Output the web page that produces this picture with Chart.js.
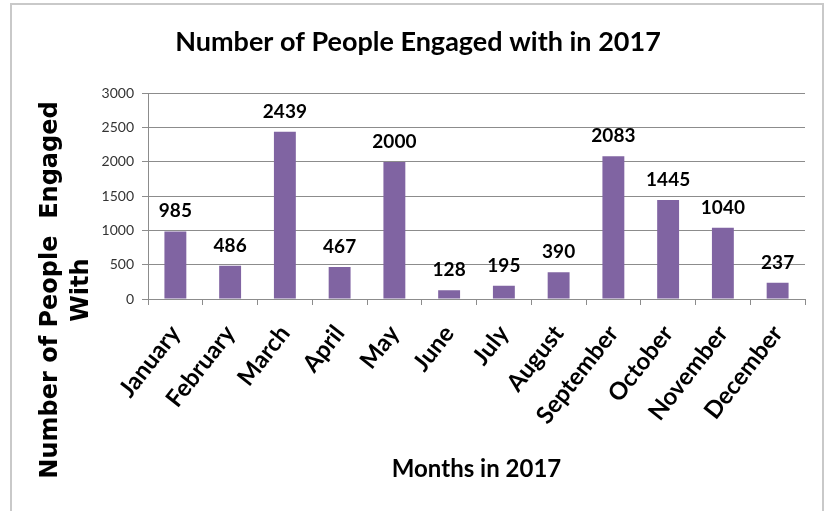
<!DOCTYPE html>
<html><head><meta charset="utf-8">
<script src="https://cdn.jsdelivr.net/npm/chart.js@4/dist/chart.umd.min.js"></script>
<style>
html,body{margin:0;padding:0;background:#fff;overflow:hidden;}
#wrap{position:relative;width:827px;height:511px;}
#frame{position:absolute;left:10px;top:3px;width:814px;height:540px;border:2px solid #c9c9c9;box-sizing:border-box;pointer-events:none;}
canvas{display:block;}
</style></head><body>
<div id="wrap"><canvas id="c" width="827" height="511"></canvas><div id="frame"></div></div>
<script>
const months = ['January','February','March','April','May','June','July','August','September','October','November','December'];
const engaged = [985, 486, 2439, 467, 2000, 128, 195, 390, 2083, 1445, 1040, 237];
const yMin = 0, yMax = 3000, yStep = 500;
const chartTitle = 'Number of People Engaged with in 2017';
const xTitle = 'Months in 2017';
const yTitleLines = ['Number of People  Engaged', 'With'];

const valueLabels = {
  id: 'valueLabels',
  afterDatasetsDraw(chart) {
    const ctx = chart.ctx;
    const meta = chart.getDatasetMeta(0);
    const data = chart.data.datasets[0].data;
    ctx.save();
    ctx.font = 'bold 19px Lato';
    ctx.fillStyle = '#000';
    ctx.textAlign = 'center';
    ctx.textBaseline = 'alphabetic';
    meta.data.forEach((bar, i) => ctx.fillText(String(data[i]), bar.x, bar.y - 14));
    ctx.restore();
  }
};

const yTitle = {
  id: 'yTitle',
  afterDraw(chart) {
    const ctx = chart.ctx;
    ctx.save();
    ctx.font = 'bold 24px "DejaVu Sans"';
    ctx.fillStyle = '#000';
    ctx.textAlign = 'center';
    ctx.textBaseline = 'alphabetic';
    const baselines = [57, 88];
    yTitleLines.forEach((t, i) => {
      ctx.save();
      ctx.translate(baselines[i], 290);
      ctx.rotate(-Math.PI / 2);
      ctx.fillText(t, 0, 0);
      ctx.restore();
    });
    ctx.restore();
  }
};

function draw() {
  new Chart(document.getElementById('c'), {
    type: 'bar',
    data: {
      labels: months,
      datasets: [{ data: engaged, backgroundColor: '#8064A2', borderWidth: 0, barPercentage: 0.4, categoryPercentage: 1 }]
    },
    options: {
      responsive: false,
      animation: false,
      layout: { padding: { left: 31, right: 22, top: 0, bottom: 0 } },
      plugins: {
        legend: { display: false },
        tooltip: { enabled: false },
        title: {
          display: true, text: chartTitle, color: '#000',
          font: { family: 'Lato', size: 27, weight: 'bold' },
          padding: { top: 26, bottom: 35 }
        }
      },
      scales: {
        x: {
          grid: { display: true, drawOnChartArea: false, drawTicks: true, tickLength: 6, color: '#8c8c8c', offset: true },
          border: { display: true, color: '#8c8c8c' },
          ticks: { minRotation: 52, maxRotation: 52, autoSkip: false, color: '#000', font: { family: 'Lato', size: 24, weight: 'bold' }, padding: 15 },
          title: { display: true, text: xTitle, color: '#000', font: { family: 'Lato', size: 24, weight: 'bold' }, padding: { top: 0, bottom: 27 } },
          afterFit(s) { s.height = 212; }
        },
        y: {
          min: yMin, max: yMax,
          ticks: { stepSize: yStep, color: '#333', font: { family: 'Lato', size: 14 }, padding: 8, callback: v => String(v) },
          grid: { color: '#8c8c8c', tickLength: 6 },
          border: { display: true, color: '#8c8c8c' },
          afterFit(s) { s.width = 117; }
        }
      }
    },
    plugins: [valueLabels, yTitle]
  });
}
Promise.all([
  document.fonts.load('bold 20px Lato'),
  document.fonts.load('14px Lato'),
  document.fonts.load('bold 24px "DejaVu Sans"')
]).then(draw, draw);
</script>
</body></html>
